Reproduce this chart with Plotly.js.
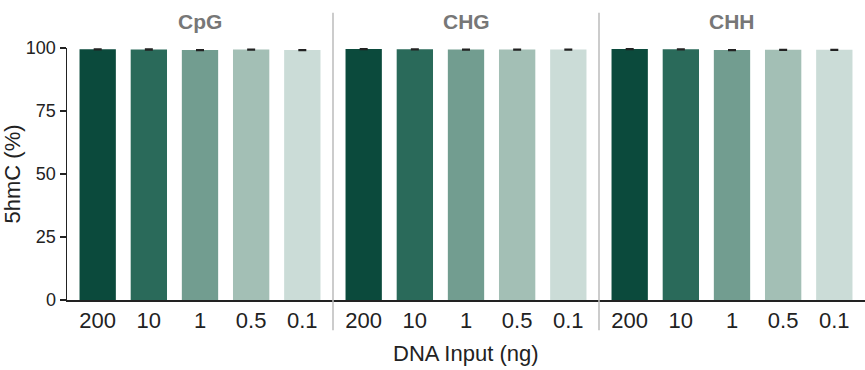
<!DOCTYPE html>
<html><head><meta charset="utf-8">
<script src="https://cdn.plot.ly/plotly-3.0.1.min.js"></script>
<style>html,body{margin:0;padding:0;background:#fff}#chart{width:865px;height:370px}</style>
</head><body><div id="chart"></div>
<script>
const inputs = ["200", "10", "1", "0.5", "0.1"];
const contexts = ["CpG", "CHG", "CHH"];
const cpgValues = [99.5, 99.4, 99.2, 99.4, 99.2];
const cpgErrors = [0.15, 0.2, 0.15, 0.15, 0.15];
const chgValues = [99.6, 99.5, 99.4, 99.4, 99.4];
const chgErrors = [0.15, 0.15, 0.15, 0.15, 0.15];
const chhValues = [99.6, 99.5, 99.2, 99.3, 99.3];
const chhErrors = [0.15, 0.15, 0.15, 0.15, 0.15];
const barColors = ["#0b4a3c", "#2a6a5a", "#729d90", "#a3bfb5", "#cbdcd7"];
const yTicks = [0, 25, 50, 75, 100];

const series = [cpgValues, chgValues, chhValues];
const errs = [cpgErrors, chgErrors, chhErrors];
const font = "Liberation Sans, Arial, Helvetica, sans-serif";

const traces = series.map((vals, i) => ({
  type: "bar",
  x: inputs,
  y: vals,
  xaxis: i === 0 ? "x" : "x" + (i + 1),
  yaxis: "y",
  marker: {color: barColors, line: {width: 0}},
  error_y: {type: "data", array: errs[i], visible: true, color: "#222", thickness: 1.5, width: 4},
  cliponaxis: false,
  showlegend: false,
  hoverinfo: "x+y"
}));

const xBase = {
  type: "category",
  range: [-0.6, 4.6],
  showline: true, linecolor: "#222", linewidth: 1.5,
  ticks: "", showgrid: false, zeroline: false,
  tickfont: {family: font, size: 22, color: "#222"},
  anchor: "y", fixedrange: true
};

const domains = [[0, 1/3], [1/3, 2/3], [2/3, 1]];
const layout = {
  width: 865, height: 370,
  margin: {l: 67, r: 0, t: 48, b: 70},
  paper_bgcolor: "#fff", plot_bgcolor: "#fff",
  bargap: 0.29,
  font: {family: font, color: "#222"},
  xaxis: Object.assign({}, xBase, {domain: domains[0]}),
  xaxis2: Object.assign({}, xBase, {domain: domains[1]}),
  xaxis3: Object.assign({}, xBase, {domain: domains[2]}),
  yaxis: {
    range: [0, 100], tickvals: yTicks, ticktext: yTicks.map(String),
    showline: true, linecolor: "#222", linewidth: 1.5,
    ticks: "outside", ticklen: 6, tickwidth: 1.5, tickcolor: "#222",
    showgrid: false, zeroline: false,
    tickfont: {family: font, size: 18, color: "#222"},
    title: {text: "5hmC (%)", font: {family: font, size: 22, color: "#222"}, standoff: 4},
    fixedrange: true
  },
  annotations: contexts.map((c, i) => ({
    text: "<b>" + c + "</b>", xref: "paper", yref: "paper",
    x: (domains[i][0] + domains[i][1]) / 2, y: 1, yshift: 27,
    xanchor: "center", yanchor: "middle", showarrow: false,
    font: {family: font, size: 21, color: "#777"}
  })).concat([{
    text: "DNA Input (ng)", xref: "paper", yref: "paper",
    x: 0.5, y: 0, yshift: -53, xanchor: "center", yanchor: "middle",
    showarrow: false, font: {family: font, size: 22, color: "#222"}
  }]),
  shapes: [1/3, 2/3].map(p => ({
    type: "line", xref: "paper", yref: "paper",
    x0: p, x1: p, y0: -0.12, y1: 1.14,
    line: {color: "#bbbbbb", width: 1.5}
  }))
};

Plotly.newPlot("chart", traces, layout, {displayModeBar: false, staticPlot: true});
</script></body></html>
